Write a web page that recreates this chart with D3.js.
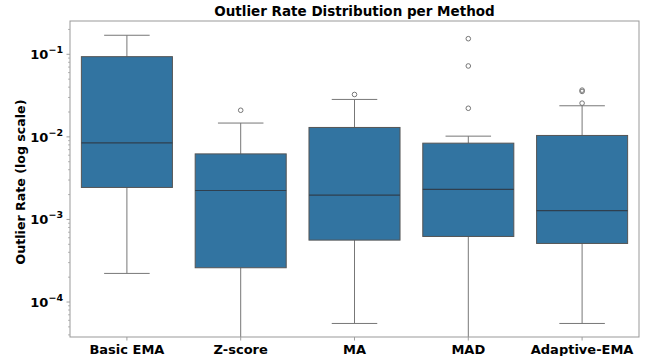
<!DOCTYPE html>
<html>
<head>
<meta charset="utf-8">
<script src="https://cdn.jsdelivr.net/npm/d3@7"></script>
<style>
  body { margin: 0; background: #fff; }
  svg text { font-family: "DejaVu Sans", sans-serif; }
</style>
</head>
<body>
<svg id="chart" width="655" height="356"></svg>
<script>
// values
const methods = ["Basic EMA", "Z-score", "MA", "MAD", "Adaptive-EMA"];
const whiskerLow = [2.22e-4, 0, 5.5e-5, 0, 5.5e-5];
const q1 = [2.44e-3, 2.6e-4, 5.62e-4, 6.22e-4, 5.12e-4];
const median = [8.46e-3, 2.24e-3, 1.97e-3, 2.31e-3, 1.28e-3];
const q3 = [0.0936, 6.22e-3, 0.0130, 8.39e-3, 0.0104];
const whiskerHigh = [0.170, 0.0147, 0.0284, 0.0102, 0.0238];
const outliers = [[], [0.021], [0.0326], [0.1545, 0.0722, 0.0222], [0.0368, 0.0355, 0.0256]];
const yTicks = [1e-4, 1e-3, 1e-2, 1e-1];

const margin = { top: 21, right: 16, bottom: 19, left: 70 };
const width = 655, height = 356;

const svg = d3.select("#chart");

const x = d3.scaleBand()
  .domain(methods)
  .range([margin.left, width - margin.right])
  .paddingInner(0.2)
  .paddingOuter(0.1);

const y = d3.scaleLog()
  .domain([3.77e-5, 0.253])
  .range([height - margin.bottom, margin.top]);

// zero values fall off a log axis, clip them to the bottom
const yPos = v => v > 0 ? y(v) : height - margin.bottom;

const boxColor = "#3274a1";
const whiskColor = "#777";

// minor ticks
const minor = [];
for (let e = -5; e <= -1; e++) {
  for (let m = 2; m <= 9; m++) {
    const v = m * Math.pow(10, e);
    if (v >= y.domain()[0] && v <= y.domain()[1]) minor.push(v);
  }
}

const yAxis = svg.append("g").attr("transform", "translate(" + margin.left + ",0)");
yAxis.selectAll("line.minor").data(minor).join("line")
  .attr("x1", -2).attr("x2", 0)
  .attr("y1", d => y(d)).attr("y2", d => y(d))
  .attr("stroke", "#888").attr("stroke-width", 0.6);
yAxis.selectAll("line.major").data(yTicks).join("line")
  .attr("x1", -3.5).attr("x2", 0)
  .attr("y1", d => y(d)).attr("y2", d => y(d))
  .attr("stroke", "#888").attr("stroke-width", 0.8);
const yLab = yAxis.selectAll("text").data(yTicks).join("text")
  .attr("x", -7).attr("y", d => y(d) + 5)
  .attr("text-anchor", "end")
  .attr("font-size", 13).attr("font-weight", "bold");
yLab.append("tspan").text("10");
yLab.append("tspan").attr("dy", -6).attr("font-size", 9.5)
  .text(d => "\u2212" + Math.round(-Math.log10(d)));

// x ticks
const xAxis = svg.append("g").attr("transform", "translate(0," + (height - margin.bottom) + ")");
xAxis.selectAll("line").data(methods).join("line")
  .attr("x1", d => x(d) + x.bandwidth() / 2).attr("x2", d => x(d) + x.bandwidth() / 2)
  .attr("y1", 0).attr("y2", 3.5)
  .attr("stroke", "#888").attr("stroke-width", 0.8);
xAxis.selectAll("text").data(methods).join("text")
  .attr("x", d => x(d) + x.bandwidth() / 2).attr("y", 17)
  .attr("text-anchor", "middle")
  .attr("font-size", 13).attr("font-weight", "bold")
  .text(d => d);

// boxes
const g = svg.append("g");
methods.forEach((m, i) => {
  const cx = x(m) + x.bandwidth() / 2;
  const bw = x.bandwidth();
  const cap = bw / 4;
  // whiskers
  g.append("line").attr("x1", cx).attr("x2", cx)
    .attr("y1", yPos(q3[i])).attr("y2", yPos(whiskerHigh[i]))
    .attr("stroke", whiskColor).attr("stroke-width", 1);
  g.append("line").attr("x1", cx).attr("x2", cx)
    .attr("y1", yPos(q1[i])).attr("y2", yPos(whiskerLow[i]))
    .attr("stroke", whiskColor).attr("stroke-width", 1);
  g.append("line").attr("x1", cx - cap).attr("x2", cx + cap)
    .attr("y1", yPos(whiskerHigh[i])).attr("y2", yPos(whiskerHigh[i]))
    .attr("stroke", whiskColor).attr("stroke-width", 1);
  if (whiskerLow[i] > 0) {
    g.append("line").attr("x1", cx - cap).attr("x2", cx + cap)
      .attr("y1", yPos(whiskerLow[i])).attr("y2", yPos(whiskerLow[i]))
      .attr("stroke", whiskColor).attr("stroke-width", 1);
  }
  g.append("rect")
    .attr("x", x(m)).attr("width", bw)
    .attr("y", yPos(q3[i])).attr("height", yPos(q1[i]) - yPos(q3[i]))
    .attr("fill", boxColor).attr("stroke", "#555").attr("stroke-width", 1);
  g.append("line").attr("x1", x(m)).attr("x2", x(m) + bw)
    .attr("y1", yPos(median[i])).attr("y2", yPos(median[i]))
    .attr("stroke", "#2f3f4f").attr("stroke-width", 1.2);
  g.selectAll(null).data(outliers[i]).join("circle")
    .attr("cx", cx).attr("cy", d => yPos(d)).attr("r", 2.3)
    .attr("fill", "none").attr("stroke", "#777").attr("stroke-width", 1);
});

// frame
svg.append("rect")
  .attr("x", margin.left).attr("y", margin.top)
  .attr("width", width - margin.left - margin.right)
  .attr("height", height - margin.top - margin.bottom)
  .attr("fill", "none").attr("stroke", "#999").attr("stroke-width", 1);

svg.append("text")
  .attr("x", (margin.left + width - margin.right) / 2).attr("y", 16)
  .attr("text-anchor", "middle")
  .attr("font-size", 13.5).attr("font-weight", "bold")
  .text("Outlier Rate Distribution per Method");

svg.append("text")
  .attr("transform", "translate(25,182) rotate(-90)")
  .attr("text-anchor", "middle")
  .attr("font-size", 12.6).attr("font-weight", "bold")
  .text("Outlier Rate (log scale)");
</script>
</body>
</html>
